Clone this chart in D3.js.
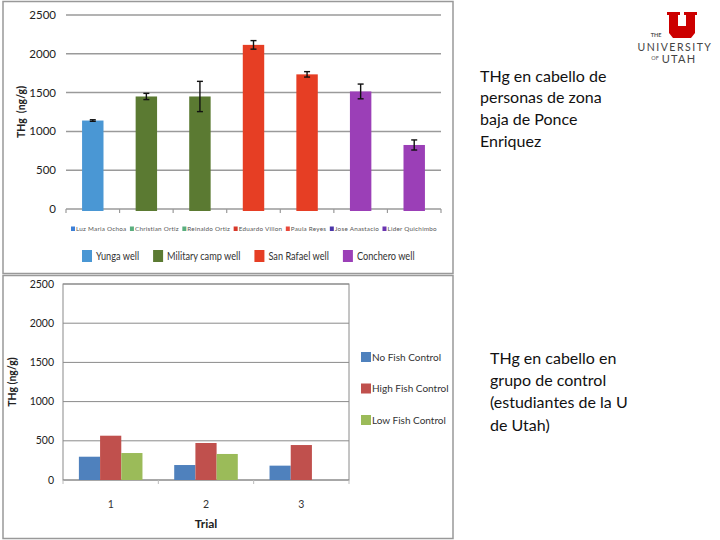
<!DOCTYPE html>
<html>
<head>
<meta charset="utf-8">
<script src="https://cdn.jsdelivr.net/npm/d3@7"></script>
<style>
  body { margin: 0; background: #fff; }
  svg { display: block; }
  text { font-family: Lato, "Open Sans", sans-serif; }
</style>
</head>
<body>
<div id="chart"></div>
<script>
// ---- data: hair THg, people of lower Ponce Enriquez ----
var people = ['Luz Maria Ochoa', 'Christian Ortiz', 'Reinaldo Ortiz', 'Eduardo Villon',
              'Paula Reyes', 'Jose Anastacio', 'Lider Quichimbo'];
var peopleWell = ['Yunga well', 'Military camp well', 'Military camp well', 'San Rafael well',
                  'San Rafael well', 'Conchero well', 'Conchero well'];
var peopleTHg = [1140, 1450, 1450, 2115, 1735, 1515, 825];
var peopleErr = [10, 40, 195, 55, 35, 95, 65];
var smallLegendColors = ['#3d7fd6', '#5aae7e', '#5aae7e', '#d8382a', '#e8483a', '#4a35a8', '#6a35b0'];
var wells = ['Yunga well', 'Military camp well', 'San Rafael well', 'Conchero well'];
var wellColors = ['#4a97d4', '#5b7a32', '#e63e24', '#9b3fb7'];

// ---- data: control group (University of Utah students) ----
var trials = ['1', '2', '3'];
var controls = ['No Fish Control', 'High Fish Control', 'Low Fish Control'];
var controlColors = ['#4f81bd', '#c0504d', '#9bbb59'];
var noFish = [297, 191, 183];
var highFish = [565, 472, 446];
var lowFish = [344, 332, null];

var yTicks = [0, 500, 1000, 1500, 2000, 2500];

var svg = d3.select('#chart').append('svg')
    .attr('width', 720)
    .attr('height', 540);

// panel frames
svg.append('rect').attr('x', 3).attr('y', 1.5).attr('width', 450).attr('height', 272)
   .attr('fill', 'none').attr('stroke', '#999').attr('stroke-width', 1.5);
svg.append('rect').attr('x', 3).attr('y', 275.5).attr('width', 450).attr('height', 263)
   .attr('fill', 'none').attr('stroke', '#999').attr('stroke-width', 1.5);

// ================= top chart =================
var x1 = d3.scaleBand().domain(people).range([66, 441]).paddingInner(0.6).paddingOuter(0.3);
var y1 = d3.scaleLinear().domain([0, 2500]).range([209, 15]);
var wellColor = d3.scaleOrdinal().domain(wells).range(wellColors);

var topG = svg.append('g');

// gridlines
topG.selectAll('.grid1').data(yTicks).enter().append('line')
   .attr('x1', 66).attr('x2', 441)
   .attr('y1', function(d) { return y1(d); })
   .attr('y2', function(d) { return y1(d); })
   .attr('stroke', '#9a9a9a').attr('stroke-width', 1.5);

// y tick labels
topG.selectAll('.ylab1').data(yTicks).enter().append('text')
   .attr('x', 56).attr('y', function(d) { return y1(d); })
   .attr('dy', '0.35em').attr('text-anchor', 'end')
   .attr('font-size', 11.5).attr('fill', '#222')
   .text(function(d) { return d; });

// x tick marks at band boundaries
var bounds1 = people.map(function(p) { return x1(p) - x1.step() * x1.paddingInner() / 2; });
bounds1.push(441);
topG.selectAll('.xtick1').data(bounds1).enter().append('line')
   .attr('x1', function(d) { return d; }).attr('x2', function(d) { return d; })
   .attr('y1', 209).attr('y2', 213)
   .attr('stroke', '#9a9a9a').attr('stroke-width', 1.2);

// bars
topG.selectAll('.bar1').data(people).enter().append('rect')
   .attr('x', function(d) { return x1(d); })
   .attr('width', x1.bandwidth())
   .attr('y', function(d, i) { return y1(peopleTHg[i]); })
   .attr('height', function(d, i) { return y1(0) - y1(peopleTHg[i]) + 2; })
   .attr('fill', function(d, i) { return wellColor(peopleWell[i]); });

// error bars
var err = topG.selectAll('.err').data(people).enter().append('g')
   .attr('stroke', '#111').attr('stroke-width', 1.4);
err.append('line')
   .attr('x1', function(d) { return x1(d) + x1.bandwidth() / 2; })
   .attr('x2', function(d) { return x1(d) + x1.bandwidth() / 2; })
   .attr('y1', function(d, i) { return y1(peopleTHg[i] - peopleErr[i]); })
   .attr('y2', function(d, i) { return y1(peopleTHg[i] + peopleErr[i]); });
err.append('line')
   .attr('x1', function(d) { return x1(d) + x1.bandwidth() / 2 - 3; })
   .attr('x2', function(d) { return x1(d) + x1.bandwidth() / 2 + 3; })
   .attr('y1', function(d, i) { return y1(peopleTHg[i] - peopleErr[i]); })
   .attr('y2', function(d, i) { return y1(peopleTHg[i] - peopleErr[i]); });
err.append('line')
   .attr('x1', function(d) { return x1(d) + x1.bandwidth() / 2 - 3; })
   .attr('x2', function(d) { return x1(d) + x1.bandwidth() / 2 + 3; })
   .attr('y1', function(d, i) { return y1(peopleTHg[i] + peopleErr[i]); })
   .attr('y2', function(d, i) { return y1(peopleTHg[i] + peopleErr[i]); });

// y axis label
topG.append('text')
   .attr('transform', 'translate(25,' + y1(1250) + ') rotate(-90)')
   .attr('text-anchor', 'middle')
   .attr('font-size', 10.5).attr('font-weight', 'bold').attr('fill', '#222')
   .attr('xml:space', 'preserve')
   .text('THg  (ng/g)');

// small legend with names
var smallLeg = topG.append('g').attr('transform', 'translate(71,229)');
var sx = 0;
people.forEach(function(p, i) {
  var g = smallLeg.append('g').attr('transform', 'translate(' + sx + ',0)');
  g.append('rect').attr('x', 0).attr('y', -2.5).attr('width', 4).attr('height', 4.5)
   .attr('fill', smallLegendColors[i]);
  var t = g.append('text').attr('x', 5).attr('y', 0).attr('dy', '0.35em')
   .attr('font-size', 6.3).attr('letter-spacing', 0.25).attr('fill', '#555').text(p);
  sx += 5 + t.node().getComputedTextLength() + 3.5;
});

// well legend (condensed text like the original)
var wellLeg = topG.append('g').attr('transform', 'translate(82,256)');
var wx = 0;
wells.forEach(function(w, i) {
  var g = wellLeg.append('g').attr('transform', 'translate(' + wx + ',0)');
  g.append('rect').attr('x', 0).attr('y', -6).attr('width', 10).attr('height', 12)
   .attr('fill', wellColors[i]);
  var t = g.append('text').attr('transform', 'translate(14,0) scale(0.8,1)')
   .attr('dy', '0.35em')
   .attr('font-size', 11.5).attr('fill', '#333').text(w);
  wx += 14 + t.node().getComputedTextLength() * 0.8 + 14;
});

// ================= bottom chart =================
var x2 = d3.scaleBand().domain(trials).range([63, 349]).paddingInner(0.333).paddingOuter(0.1667);
var xs = d3.scaleBand().domain(controls).range([0, x2.bandwidth()]);
var y2 = d3.scaleLinear().domain([0, 2500]).range([480, 284]);
var ctrlColor = d3.scaleOrdinal().domain(controls).range(controlColors);
var ctrlValues = [noFish, highFish, lowFish];

var bot = svg.append('g');

bot.selectAll('.grid2').data(yTicks).enter().append('line')
   .attr('x1', 63).attr('x2', 349)
   .attr('y1', function(d) { return y2(d); })
   .attr('y2', function(d) { return y2(d); })
   .attr('stroke', '#8a8a8a').attr('stroke-width', 1);
bot.append('rect').attr('x', 63).attr('y', 284).attr('width', 286).attr('height', 196)
   .attr('fill', 'none').attr('stroke', '#8a8a8a').attr('stroke-width', 1);

bot.selectAll('.ylab2').data(yTicks).enter().append('text')
   .attr('x', 54).attr('y', function(d) { return y2(d); })
   .attr('dy', '0.35em').attr('text-anchor', 'end')
   .attr('font-size', 10.5).attr('fill', '#222')
   .text(function(d) { return d; });

var bounds2 = trials.map(function(t) { return x2(t) - x2.step() * x2.paddingInner() / 2; });
bounds2.push(349);
bot.selectAll('.xtick2').data(bounds2).enter().append('line')
   .attr('x1', function(d) { return d; }).attr('x2', function(d) { return d; })
   .attr('y1', 480).attr('y2', 484)
   .attr('stroke', '#bbb').attr('stroke-width', 1);

var rows = [];
controls.forEach(function(c, ci) {
  trials.forEach(function(t, ti) {
    if (ctrlValues[ci][ti] != null) rows.push({trial: t, control: c, value: ctrlValues[ci][ti]});
  });
});
bot.selectAll('.bar2').data(rows).enter().append('rect')
   .attr('x', function(d) { return x2(d.trial) + xs(d.control); })
   .attr('width', xs.bandwidth())
   .attr('y', function(d) { return y2(d.value); })
   .attr('height', function(d) { return y2(0) - y2(d.value); })
   .attr('fill', function(d) { return ctrlColor(d.control); });

bot.selectAll('.xlab2').data(trials).enter().append('text')
   .attr('x', function(d) { return x2(d) + x2.bandwidth() / 2; })
   .attr('y', 504).attr('dy', '0.35em').attr('text-anchor', 'middle')
   .attr('font-size', 10.5).attr('fill', '#333')
   .text(function(d) { return d; });

bot.append('text').attr('x', 206).attr('y', 524).attr('dy', '0.35em')
   .attr('text-anchor', 'middle').attr('font-size', 12).attr('font-weight', 'bold')
   .attr('fill', '#222').text('Trial');

bot.append('text')
   .attr('transform', 'translate(16,' + y2(1250) + ') rotate(-90)')
   .attr('text-anchor', 'middle')
   .attr('font-size', 10.5).attr('font-weight', 'bold').attr('fill', '#222')
   .text('THg (ng/g)');

var ctrlLeg = bot.selectAll('.leg2').data(controls).enter().append('g')
   .attr('transform', function(d, i) { return 'translate(361,' + (357 + i * 31.5) + ')'; });
ctrlLeg.append('rect').attr('x', 0).attr('y', -5).attr('width', 10).attr('height', 10)
   .attr('fill', function(d) { return ctrlColor(d); });
ctrlLeg.append('text').attr('x', 11).attr('y', 0).attr('dy', '0.35em')
   .attr('font-size', 10).attr('fill', '#333')
   .text(function(d) { return d; });

// ================= side captions =================
var caption1 = ['THg en cabello de', 'personas de zona', 'baja de Ponce', 'Enriquez'];
var caption2 = ['THg en cabello en', 'grupo de control', '(estudiantes de la U', 'de Utah)'];
svg.append('g').selectAll('text').data(caption1).enter().append('text')
   .attr('x', 480).attr('y', function(d, i) { return 76 + i * 21.7; })
   .attr('dy', '0.35em').attr('font-size', 16).attr('fill', '#111')
   .text(function(d) { return d; });
svg.append('g').selectAll('text').data(caption2).enter().append('text')
   .attr('x', 490).attr('y', function(d, i) { return 358 + i * 22.3; })
   .attr('dy', '0.35em').attr('font-size', 16).attr('fill', '#111')
   .text(function(d) { return d; });

// ================= University of Utah logo =================
var logo = svg.append('g').attr('transform', 'translate(667,12)');
logo.append('path')
   .attr('d', 'M0,0 H13 V3 H11 V14 H19 V3 H17 V0 H30 V3 H28 V21 L24,26 H6 L2,21 V3 H0 Z')
   .attr('fill', '#cc0000');
svg.append('text').attr('x', 656).attr('y', 37).attr('text-anchor', 'middle')
   .attr('font-family', '"DejaVu Serif", serif').attr('font-size', 5.5).attr('font-weight', 'bold')
   .attr('fill', '#555').text('THE');
svg.append('text').attr('x', 675).attr('y', 51).attr('text-anchor', 'middle')
   .attr('font-family', '"DejaVu Serif", serif').attr('font-size', 10.5)
   .attr('letter-spacing', 1.5).attr('fill', '#444').text('UNIVERSITY');
svg.append('text').attr('x', 679).attr('y', 63).attr('text-anchor', 'middle')
   .attr('font-family', '"DejaVu Serif", serif').attr('font-size', 11)
   .attr('letter-spacing', 1.2).attr('fill', '#444').text('UTAH');
svg.append('text').attr('x', 655).attr('y', 60).attr('text-anchor', 'middle')
   .attr('font-family', '"DejaVu Serif", serif').attr('font-size', 5.5)
   .attr('fill', '#555').text('OF');
</script>
</body>
</html>
